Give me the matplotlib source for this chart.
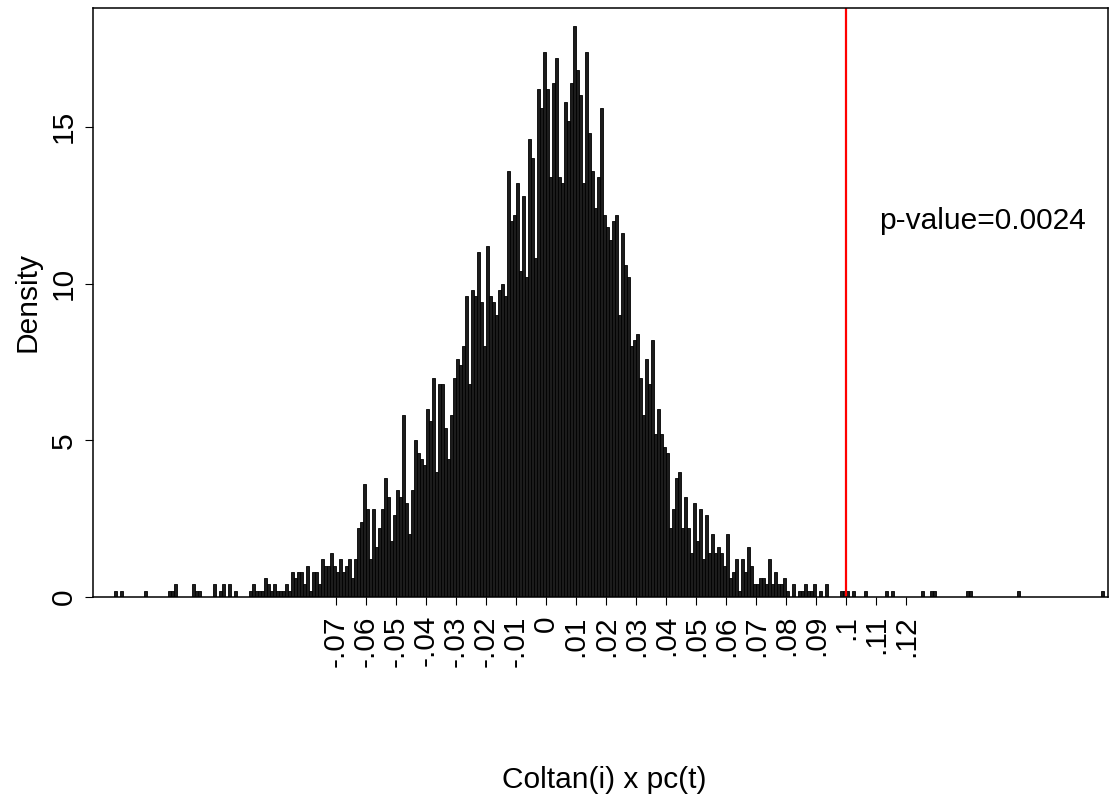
import numpy as np
import matplotlib
matplotlib.use("Agg")
import matplotlib.pyplot as plt

plt.rcParams['font.family'] = ['Liberation Sans', 'DejaVu Sans']

# null distribution of the statistic: 5000 draws, histogram bins of 0.001
n_sims = 5000
bin_width = 0.001
first_break = -0.1438
counts = [
    1, 0, 1, 0, 0, 0, 0, 0, 0, 0,
    1, 0, 0, 0, 0, 0, 0, 0, 1, 1,
    2, 0, 0, 0, 0, 0, 2, 1, 1, 0,
    0, 0, 0, 2, 0, 1, 2, 0, 2, 0,
    1, 0, 0, 0, 0, 1, 2, 1, 1, 1,
    3, 2, 1, 2, 1, 1, 1, 2, 1, 4,
    3, 4, 4, 2, 5, 1, 4, 4, 2, 6,
    5, 5, 7, 5, 4, 6, 4, 5, 6, 3,
    6, 11, 12, 18, 14, 6, 14, 8, 11, 14,
    19, 16, 9, 13, 17, 16, 29, 15, 10, 17,
    25, 23, 22, 21, 30, 28, 35, 20, 34, 34,
    27, 22, 29, 35, 38, 37, 40, 48, 34, 49,
    48, 55, 47, 40, 56, 48, 47, 45, 49, 50,
    48, 68, 60, 61, 66, 52, 64, 51, 73, 70,
    54, 81, 78, 87, 81, 67, 82, 86, 67, 66,
    79, 76, 82, 91, 84, 80, 66, 87, 74, 68,
    62, 67, 78, 61, 59, 57, 60, 61, 45, 58,
    53, 51, 40, 41, 42, 35, 29, 38, 34, 41,
    26, 30, 26, 24, 23, 11, 14, 19, 20, 11,
    16, 11, 7, 15, 9, 14, 6, 13, 7, 10,
    7, 8, 7, 5, 10, 3, 4, 6, 1, 6,
    4, 8, 5, 2, 2, 3, 3, 2, 6, 2,
    4, 2, 2, 3, 1, 0, 2, 0, 1, 1,
    2, 1, 1, 2, 0, 1, 0, 2, 0, 0,
    0, 0, 1, 1, 1, 0, 1, 0, 0, 0,
    1, 0, 0, 0, 0, 0, 0, 1, 0, 1,
    0, 0, 0, 0, 0, 0, 0, 0, 0, 1,
    0, 0, 1, 1, 0, 0, 0, 0, 0, 0,
    0, 0, 0, 0, 1, 1, 0, 0, 0, 0,
    0, 0, 0, 0, 0, 0, 0, 0, 0, 0,
    0, 1, 0, 0, 0, 0, 0, 0, 0, 0,
    0, 0, 0, 0, 0, 0, 0, 0, 0, 0,
    0, 0, 0, 0, 0, 0, 0, 0, 0, 1,
]
observed = 0.1
p_value = 0.0024

xtick_values = [-0.07, -0.06, -0.05, -0.04, -0.03, -0.02, -0.01, 0,
                0.01, 0.02, 0.03, 0.04, 0.05, 0.06, 0.07, 0.08, 0.09, 0.1, 0.11, 0.12]
xtick_labels = ["-.07", "-.06", "-.05", "-.04", "-.03", "-.02", "-.01", "0",
                ".01", ".02", ".03", ".04", ".05", ".06", ".07", ".08", ".09", ".1", ".11", ".12"]
ytick_values = [0, 5, 10, 15]

counts = np.array(counts)
density = counts / (n_sims * bin_width)
breaks = first_break + bin_width * np.arange(len(counts) + 1)

fs = 21.5
W, H = 1111, 801
fig = plt.figure(figsize=(W / 100, H / 100), dpi=100)
ax = fig.add_axes([93 / W, 1 - 597 / H, (1108 - 93) / W, (597 - 8) / H])

ax.bar(breaks[:-1], density, width=bin_width, align='edge',
       color='#1c1c1c', edgecolor='black', linewidth=0.6)
ax.axvline(observed, color='red', lw=1.6)
ax.text(0.1456, 12, f"p-value={p_value}", fontsize=fs, ha='center', va='center')

ax.set_xlim(-0.1509, 0.1874)
ax.set_ylim(0, 18.79)

ax.set_xticks(xtick_values)
ax.set_xticklabels(xtick_labels, rotation=90, fontsize=fs)
ax.set_yticks(ytick_values)
ax.set_yticklabels([str(v) for v in ytick_values], rotation=90, va='center', fontsize=fs)
ax.tick_params(axis='x', length=6, width=0.8, pad=7)
ax.tick_params(axis='y', length=6, width=0.8, pad=5)
for s in ax.spines.values():
    s.set_linewidth(1.1)

fig.text(28 / W, 1 - 302 / H, "Density", rotation=90, ha='center', va='center', fontsize=fs)
fig.text(604 / W, 1 - 780 / H, "Coltan(i) x pc(t)", ha='center', va='center', fontsize=fs)

fig.savefig("out.png", dpi=100)
